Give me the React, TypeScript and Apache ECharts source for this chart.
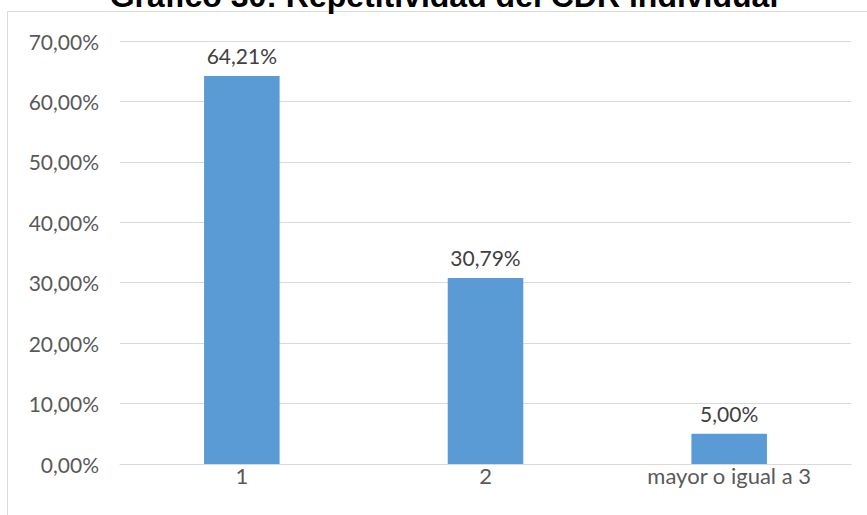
import React, { useEffect, useRef } from "react";
import * as echarts from "echarts";

const titleText = "Gráfico 30: Repetitividad del CDR individual";
const categories = ["1", "2", "mayor o igual a 3"];
const values = [64.21, 30.79, 5.0];
const yMin = 0;
const yMax = 70;
const yStep = 10;

const fmt = (v: number) => v.toFixed(2).replace(".", ",") + "%";

export default function App() {
  const ref = useRef<HTMLDivElement>(null);
  useEffect(() => {
    document.body.style.margin = "0";
    const chart = echarts.init(ref.current!, undefined, { renderer: "svg" });
    const font = "Lato, 'Open Sans', sans-serif";
    chart.setOption({
      animation: false,
      backgroundColor: "#ffffff",
      graphic: [
        {
          type: "rect",
          z: 0,
          shape: { x: 7.5, y: 11.5, width: 900, height: 600 },
          style: { fill: "none", stroke: "#d9d9d9", lineWidth: 1 },
        },
        {
          type: "text",
          z: 10,
          x: 444,
          y: 12,
          style: {
            text: titleText,
            fill: "#000000",
            font: "bold 32px 'Liberation Sans', Arial, sans-serif",
            textAlign: "center",
            verticalAlign: "bottom",
          },
        },
      ],
      grid: { left: 120, right: 16, top: 41, bottom: 51, containLabel: false },
      xAxis: {
        type: "category",
        data: categories,
        axisLine: { show: true, lineStyle: { color: "#d9d9d9", width: 1 } },
        axisTick: { show: false },
        axisLabel: { color: "#595959", fontSize: 22, fontFamily: font, margin: 0 },
      },
      yAxis: {
        type: "value",
        min: yMin,
        max: yMax,
        interval: yStep,
        axisLine: { show: false },
        axisTick: { show: false },
        splitLine: { lineStyle: { color: "#d9d9d9", width: 1 } },
        axisLabel: {
          color: "#595959",
          fontSize: 21,
          fontFamily: font,
          margin: 21,
          formatter: (v: number) => fmt(v),
        },
      },
      series: [
        {
          type: "bar",
          data: values,
          barWidth: "31%",
          itemStyle: { color: "#5b9bd5" },
          label: {
            show: true,
            position: "top",
            distance: 10,
            color: "#404040",
            fontSize: 21,
            fontFamily: font,
            formatter: (p: any) => fmt(p.value),
          },
        },
      ],
    });
    return () => chart.dispose();
  }, []);
  return <div ref={ref} style={{ width: 867, height: 515 }} />;
}
